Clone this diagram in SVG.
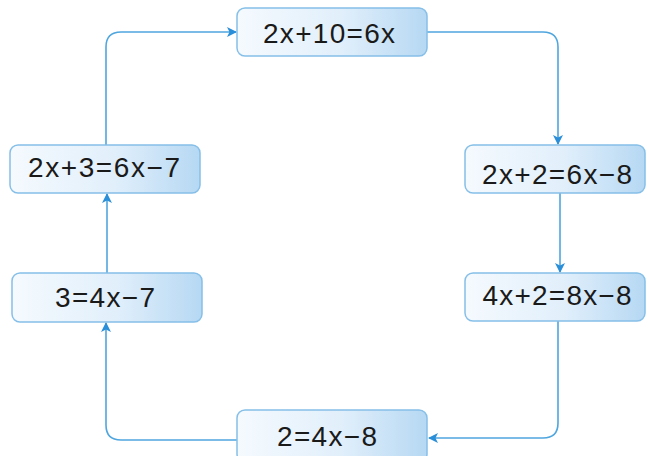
<svg xmlns="http://www.w3.org/2000/svg" width="648" height="456" viewBox="0 0 648 456">
<defs>
<linearGradient id="g" x1="0" y1="0" x2="1" y2="0">
<stop offset="0" stop-color="#f5fafe"/>
<stop offset="0.55" stop-color="#e1effb"/>
<stop offset="1" stop-color="#b6d8f3"/>
</linearGradient>
<marker id="a" viewBox="0 0 10 10" refX="9" refY="5" markerWidth="10" markerHeight="10" markerUnits="userSpaceOnUse" orient="auto">
<path d="M0,0 L10,5 L0,10 L2.5,5 Z" fill="#2a8fd8"/>
</marker>
<style>
.box{fill:url(#g);stroke:#86bfe8;stroke-width:1.5}
.t{font-family:"Liberation Sans",Arial,sans-serif;font-size:28px;fill:#1a1a1a;text-anchor:middle}
.c{fill:none;stroke:#4fa6df;stroke-width:1.6;marker-end:url(#a)}
</style>
</defs>
<rect width="648" height="456" fill="#fff"/>
<g id="connectors">
<path class="c" d="M106,145 V47 Q106,32 121,32 H236"/>
<path class="c" d="M427,32 H543 Q558,32 558,47 V144"/>
<path class="c" d="M560,193 V272"/>
<path class="c" d="M558,321 V423 Q558,438 543,438 H429"/>
<path class="c" d="M237,440 H121 Q106,440 106,425 V323"/>
<path class="c" d="M107,273 V194"/>
</g>
<g id="n1"><rect class="box" x="237" y="8" width="190" height="48" rx="8"/><text class="t" x="329" y="43" textLength="132" lengthAdjust="spacing">2x+10=6x</text></g>
<g id="n2"><rect class="box" x="465" y="145" width="180" height="48" rx="8"/><text class="t" x="557" y="184" textLength="150" lengthAdjust="spacing">2x+2=6x−8</text></g>
<g id="n3"><rect class="box" x="465" y="273" width="180" height="48" rx="8"/><text class="t" x="557" y="305" textLength="149" lengthAdjust="spacing">4x+2=8x−8</text></g>
<g id="n4"><rect class="box" x="237" y="410" width="190" height="52" rx="8"/><text class="t" x="327" y="446" textLength="100" lengthAdjust="spacing">2=4x−8</text></g>
<g id="n5"><rect class="box" x="12" y="273" width="190" height="49" rx="8"/><text class="t" x="105" y="307" textLength="100" lengthAdjust="spacing">3=4x−7</text></g>
<g id="n6"><rect class="box" x="10" y="145" width="190" height="48" rx="8"/><text class="t" x="104" y="177" textLength="152" lengthAdjust="spacing">2x+3=6x−7</text></g>
</svg>
